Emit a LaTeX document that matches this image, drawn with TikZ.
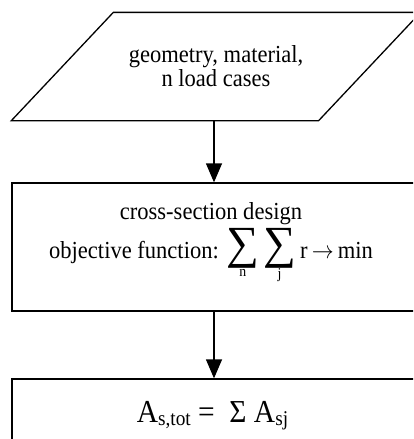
\documentclass[tikz,border=0pt]{standalone}
\usepackage{fontspec}
\setmainfont{Liberation Serif}[FakeStretch=0.92]
\newfontfamily\sumfont{Liberation Serif}
\usetikzlibrary{arrows.meta,calc}
\newcommand{\subfnt}{\fontsize{15}{15}\selectfont}
\newcommand{\bigsum}[1]{\mathop{\raisebox{0pt}[\height][9pt]{\sumfont\fontsize{46}{46}\selectfont ∑}}\limits_{\hbox{\subfnt #1}}}
\begin{document}
\begin{tikzpicture}[x=1pt,y=1pt,
  line width=1.3pt,
  txt/.style={font=\fontsize{24.5}{24}\selectfont, align=center, inner sep=0pt},
  boxnode/.style={draw, rectangle, minimum width=404pt, inner sep=0pt},
  arr/.style={-{Triangle[length=19pt,width=16pt]}}
]
\fill[white] (0,0) rectangle (413,-439);
\useasboundingbox (0,0) rectangle (413,-439);
\clip (0,0) rectangle (413,-439);

% input parallelogram
\node[txt, minimum width=306pt, minimum height=107pt] (in) at (216,-66.5)
  {geometry, material,\\ n load cases};
\draw ([xshift=-51pt]in.south west) -- ([xshift=-51pt]in.south east)
  -- ([xshift=51pt]in.north east) -- ([xshift=51pt]in.north west) -- cycle;

% design box
\node[boxnode, minimum height=128pt] (b2) at (214,-247) {};
\node[txt] (t2) at (211,-243)
  {cross-section design\\[2pt] objective function: $\bigsum{n}\bigsum{j}\hbox{r\,\scalebox{0.88}[1]{$\rightarrow$}\,min}$};

% result box
\node[boxnode, minimum height=82pt] (b3) at (214,-420) {};
\node[inner sep=0pt, font=\fontsize{32}{32}\selectfont] (t3) at (212.5,-416)
  {A\raisebox{-0.22ex}{\fontsize{21}{21}\selectfont s,tot} = \ Σ A\raisebox{-0.22ex}{\fontsize{21}{21}\selectfont sj}};

\draw[arr] (in.south -| b2.north) -- (b2.north);
\draw[arr] (b2.south) -- (b3.north);
\end{tikzpicture}
\end{document}
